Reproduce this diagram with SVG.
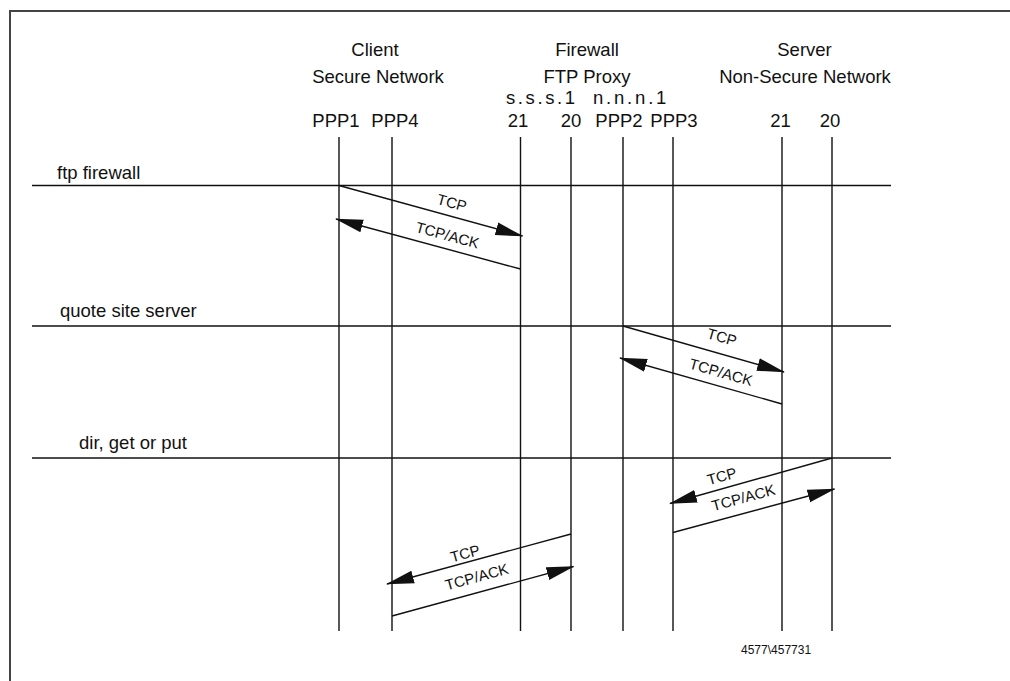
<svg xmlns="http://www.w3.org/2000/svg" width="1010" height="681" viewBox="0 0 1010 681">
<style>
text{font-family:"Liberation Sans",Arial,sans-serif;fill:#111}
.h{font-size:18.5px;text-anchor:middle}
.p{font-size:18.5px;text-anchor:middle}
.r{font-size:18.5px}
.t{font-size:15px;text-anchor:middle}
.frame{stroke:#444;stroke-width:2;fill:none}
.life{stroke:#111;stroke-width:1.4}
.step{stroke:#111;stroke-width:1.6}
.msg{stroke:#111;stroke-width:1.4;fill:none;marker-end:url(#ah)}
</style>
<defs>
<marker id="ah" markerUnits="userSpaceOnUse" viewBox="0 -7 28 14" refX="27" refY="0" markerWidth="28" markerHeight="14" orient="auto">
<path d="M0,-6.5 L28,0 L0,6.5 Z" fill="#111"/>
</marker>
</defs>
<rect width="1010" height="681" fill="#fff"/>
<path class="frame" d="M10,681 L10,11 L1010,11"/>
<g id="header">
<text class="h" x="375" y="56">Client</text>
<text class="h" x="378" y="83">Secure Network</text>
<text class="h" x="587" y="56">Firewall</text>
<text class="h" x="587" y="83">FTP Proxy</text>
<text class="h" x="804.5" y="56">Server</text>
<text class="h" x="805" y="83">Non-Secure Network</text>
<text class="r" x="506" y="104" letter-spacing="2.6">s.s.s.1</text>
<text class="r" x="593" y="104" letter-spacing="2.8">n.n.n.1</text>
</g>
<g id="lifeline-ppp1"><text class="p" x="336" y="127">PPP1</text><line class="life" x1="339" y1="137" x2="339" y2="631"/></g>
<g id="lifeline-ppp4"><text class="p" x="395" y="127">PPP4</text><line class="life" x1="392" y1="137" x2="392" y2="631"/></g>
<g id="lifeline-fw21"><text class="p" x="518" y="127">21</text><line class="life" x1="520.5" y1="137" x2="520.5" y2="631"/></g>
<g id="lifeline-fw20"><text class="p" x="571" y="127">20</text><line class="life" x1="571" y1="137" x2="571" y2="631"/></g>
<g id="lifeline-ppp2"><text class="p" x="619" y="127">PPP2</text><line class="life" x1="623" y1="137" x2="623" y2="631"/></g>
<g id="lifeline-ppp3"><text class="p" x="674" y="127">PPP3</text><line class="life" x1="673" y1="137" x2="673" y2="631"/></g>
<g id="lifeline-sv21"><text class="p" x="780.5" y="127">21</text><line class="life" x1="782" y1="137" x2="782" y2="631"/></g>
<g id="lifeline-sv20"><text class="p" x="830" y="127">20</text><line class="life" x1="832" y1="137" x2="832" y2="631"/></g>
<g id="step-ftp-firewall"><text class="r" x="57" y="179">ftp firewall</text><line class="step" x1="32" y1="185.5" x2="891" y2="185.5"/></g>
<g id="step-quote-site"><text class="r" x="60" y="317">quote site server</text><line class="step" x1="32" y1="326" x2="891" y2="326"/></g>
<g id="step-dir-get-put"><text class="r" x="79" y="449">dir, get or put</text><line class="step" x1="32" y1="458" x2="891" y2="458"/></g>
<g id="connectors">
<path class="msg" d="M339,185.5 L522.5,236"/>
<path class="msg" d="M520.5,269 L336,219"/>
<path class="msg" d="M623,326 L784,372"/>
<path class="msg" d="M782,404 L620,358"/>
<path class="msg" d="M832,458 L670,503.5"/>
<path class="msg" d="M673,532.5 L834.5,489"/>
<path class="msg" d="M571,534 L387,584"/>
<path class="msg" d="M392,616 L573.5,566.5"/>
</g>
<g id="labels">
<text class="t" transform="translate(452,202.5) rotate(15.6)" y="5.4">TCP</text>
<text class="t" transform="translate(447.5,235) rotate(15.2)" y="5.4">TCP/ACK</text>
<text class="t" transform="translate(722,337) rotate(15.9)" y="5.4">TCP</text>
<text class="t" transform="translate(721,372) rotate(15.8)" y="5.4">TCP/ACK</text>
<text class="t" transform="translate(721.7,476) rotate(-15.3)" y="5.4">TCP</text>
<text class="t" transform="translate(743.3,497.5) rotate(-15.1)" y="5.4">TCP/ACK</text>
<text class="t" transform="translate(465,553.3) rotate(-15.2)" y="5.4">TCP</text>
<text class="t" transform="translate(476.7,576.7) rotate(-15.3)" y="5.4">TCP/ACK</text>
</g>
<text id="figure-id" x="741" y="654" style="font-size:12px">4577\457731</text>
</svg>
